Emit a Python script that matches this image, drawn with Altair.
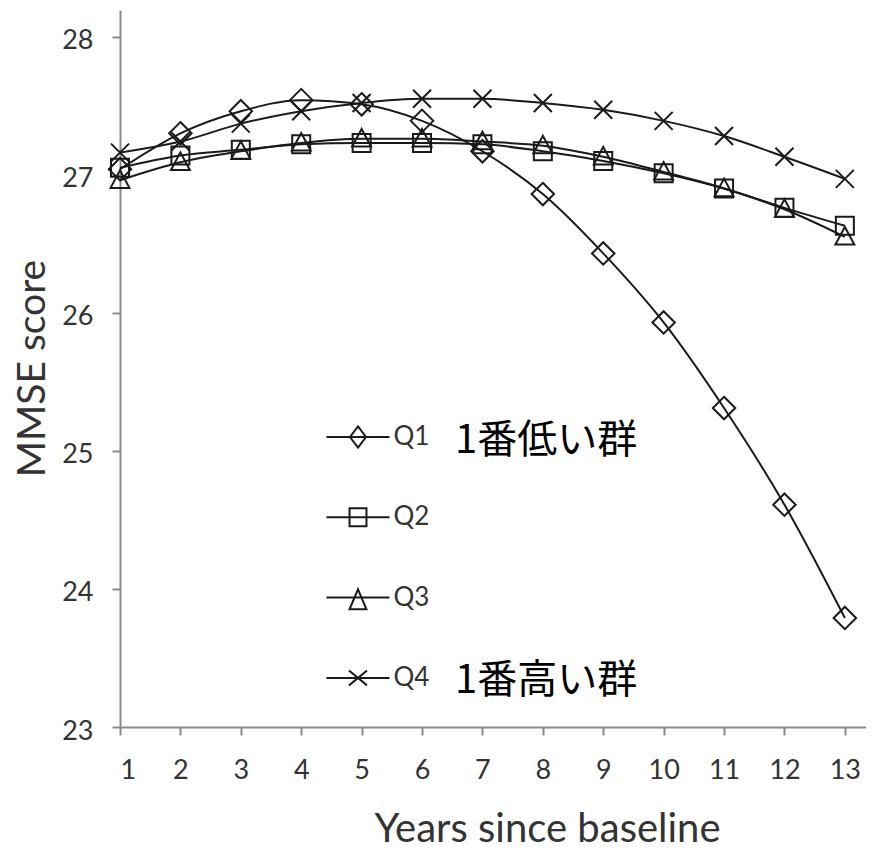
import altair as alt
import pandas as pd

years = list(range(1, 14))
groups = ["Q1", "Q2", "Q3", "Q4"]
q1 = [27.04, 27.30, 27.46, 27.54, 27.51, 27.39, 27.17, 26.86, 26.43, 25.93, 25.31, 24.61, 23.79]
q2 = [27.05, 27.14, 27.18, 27.22, 27.23, 27.23, 27.22, 27.17, 27.10, 27.01, 26.90, 26.76, 26.63]
q3 = [26.96, 27.09, 27.17, 27.23, 27.26, 27.26, 27.24, 27.21, 27.13, 27.02, 26.90, 26.75, 26.55]
q4 = [27.16, 27.24, 27.37, 27.46, 27.52, 27.55, 27.55, 27.52, 27.47, 27.39, 27.28, 27.13, 26.97]
y_ticks = [23, 24, 25, 26, 27, 28]
note_low = "1番低い群"
note_high = "1番高い群"

rows = []
for g, vals in zip(groups, [q1, q2, q3, q4]):
    for yr, v in zip(years, vals):
        rows.append({"year": yr, "score": v, "series": g, "grp": g})
df = pd.DataFrame(rows)

LATIN = "Lato"
INK = "#1a1a1a"

# marker shapes for the plotted points
shape_paths = [
    "M0,-1.25L1.25,0L0,1.25L-1.25,0Z",
    "M-1,-1H1V1H-1Z",
    "M0,-1.1L1.05,0.85H-1.05Z",
    "M-1,-1L1,1M1,-1L-1,1",
]
# legend glyphs: line segment through the marker
EXT = "M0,-1.4M0,1.4"
legend_paths = [
    "M-3.5,0H3.5M0,-1.17L0.89,0L0,1.17L-0.89,0Z" + EXT,
    "M-3.5,0H3.5M-0.94,-1H0.94V1H-0.94Z" + EXT,
    "M-3.5,0H3.5M0,-0.92L0.94,1.3H-0.94Z" + EXT,
    "M-3.5,0H3.5M-1,-0.83L1,0.83M1,-0.83L-1,0.83" + EXT,
]

x_enc = alt.X(
    "year:Q",
    scale=alt.Scale(domain=[1, 13.35], nice=False, zero=False),
    axis=alt.Axis(
        values=years, title="Years since baseline", grid=False,
        labelFontSize=27, labelPadding=22, tickSize=8,
        titleFontSize=40, titleFontWeight="normal",
        titleX=427, titleY=102, titleBaseline="middle", titleAlign="center",
    ),
)
y_enc = alt.Y(
    "score:Q",
    scale=alt.Scale(domain=[23, 28.193], nice=False, zero=False),
    axis=alt.Axis(
        values=y_ticks, title="MMSE score", grid=False,
        labelFontSize=27, labelPadding=19, tickSize=8, labelOffset=4,
        titleFontSize=39, titleFontWeight="normal",
        titleX=-88, titleY=358, titleAngle=-90, titleBaseline="middle", titleAlign="center",
    ),
)

lines = alt.Chart(df).mark_line(interpolate="monotone", strokeWidth=2, color=INK).encode(
    x=x_enc, y=y_enc, detail="series:N",
)

points = alt.Chart(df).mark_point(filled=False, strokeWidth=2, size=324, color=INK, opacity=1).encode(
    x=x_enc, y=y_enc,
    shape=alt.Shape("series:N", scale=alt.Scale(range=shape_paths), legend=None),
)

# legend-only layer: its marks are clipped away, only its legend is shown
legend_layer = alt.Chart(df).mark_point(
    filled=False, strokeWidth=2, size=324, color=INK, opacity=1, clip=True
).encode(
    x=alt.value(-2000), y=alt.value(-2000),
    shape=alt.Shape(
        "grp:N",
        scale=alt.Scale(range=legend_paths),
        legend=alt.Legend(
            orient="none", legendX=225, legendY=414, title=None, padding=0,
            symbolSize=324, symbolStrokeWidth=2, symbolStrokeColor=INK,
            symbolFillColor="transparent", rowPadding=46.3,
            labelFont=LATIN, labelFontSize=26, labelColor="#333", labelOffset=22.5,
        ),
    ),
)

note1 = alt.Chart(pd.DataFrame({"t": [note_low]})).mark_text(
    font="Noto Sans CJK JP", fontSize=40, align="left", baseline="middle", color="black"
).encode(text="t:N", x=alt.value(335), y=alt.value(431))
note2 = alt.Chart(pd.DataFrame({"t": [note_high]})).mark_text(
    font="Noto Sans CJK JP", fontSize=40, align="left", baseline="middle", color="black"
).encode(text="t:N", x=alt.value(335), y=alt.value(671))

chart = alt.layer(lines, points, legend_layer, note1, note2).resolve_scale(shape="independent").properties(
    width=746, height=717,
    padding={"left": 112, "top": 2, "right": 0, "bottom": 124},
    autosize=alt.AutoSizeParams(type="none"),
    background="white",
).configure_view(stroke=None).configure_axis(
    domainColor="#8a8a8a", domainWidth=2, tickColor="#8a8a8a", tickWidth=2,
    labelFont=LATIN, titleFont=LATIN, labelColor="#333", titleColor="#333",
)

chart.save("out.html", embed_options={"renderer": "svg", "actions": False})
